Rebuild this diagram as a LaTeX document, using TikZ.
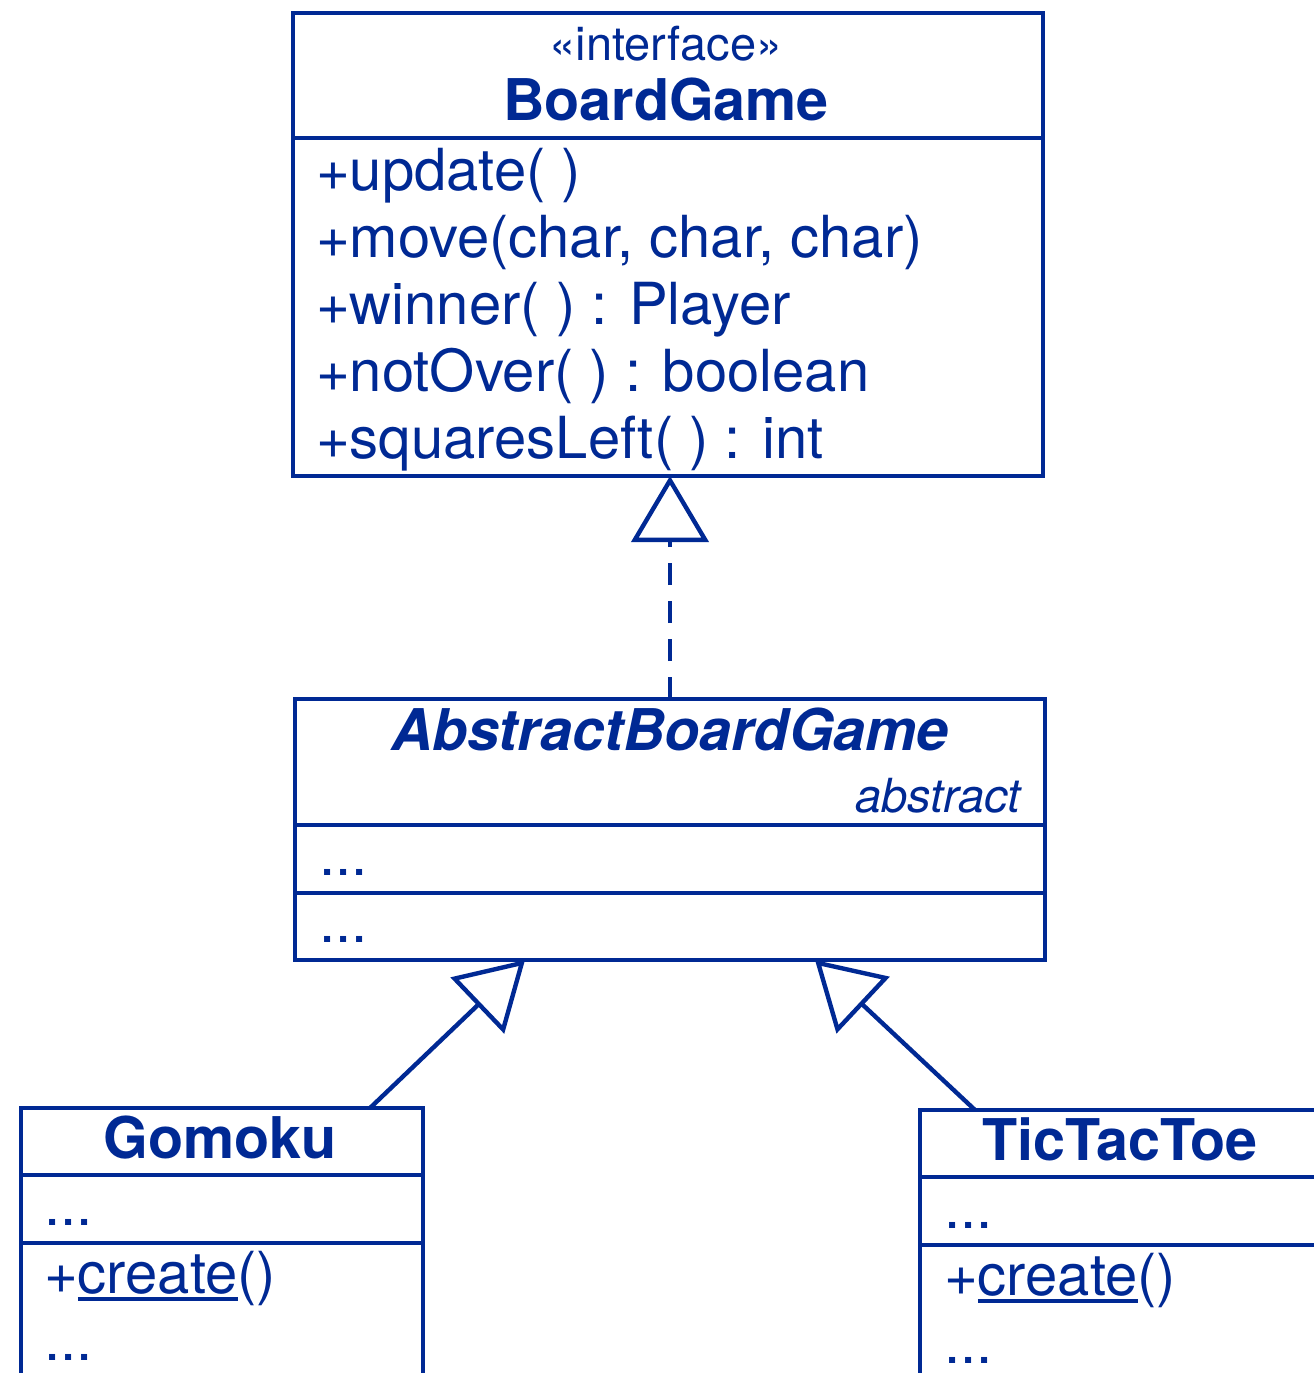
\documentclass[tikz,border=0pt]{standalone}
\usepackage{fontspec}
\setmainfont{TeX Gyre Heros}
\usetikzlibrary{arrows.meta,positioning}
\definecolor{umlblue}{RGB}{0,41,148}
\newcommand{\staticop}[1]{\setbox0\hbox{#1}\rlap{\rule[-8pt]{\wd0}{3.6pt}}\box0}

\begin{document}
\begin{tikzpicture}
  [x=1pt, y=-1pt, line width=4.4pt, color=umlblue,
   every node/.style={inner sep=0pt, outer sep=0pt, text=umlblue},
   classbox/.style={draw=umlblue, rectangle, anchor=north west},
   classname/.style={anchor=base, font=\fontsize{57.5}{68}\selectfont\bfseries},
   member/.style={anchor=base west, font=\fontsize{58}{68}\selectfont},
   smalltag/.style={font=\fontsize{47}{56}\selectfont},
   realize/.style={dash pattern=on 22pt off 16pt, -{Triangle[open, length=66pt, width=77pt]}},
   inherit/.style={-{Triangle[open, length=66pt, width=77pt]}}]

  \useasboundingbox (0,0) rectangle (1314,1373);
  \clip (0,0) rectangle (1314,1373);

  % interface
  \node[classbox, minimum width=750pt, minimum height=463pt] (boardgame) at (293,13) {};
  \draw (boardgame.west |- 0,138) -- (boardgame.east |- 0,138);
  \node[smalltag, anchor=base] (bgtag) at (666,60) {«interface»};
  \node[classname] (bgname) at (666,120) {BoardGame};
  \node[member] (update) at (316,190) {+update( )};
  \node[member] (move) at (316,257) {+move(char, char, char)};
  \node[member] (winner) at (316,324) {+winner( ) : Player};
  \node[member] (notover) at (316,391) {+notOver( ) : boolean};
  \node[member] (squares) at (316,458) {+squaresLeft( ) : int};

  % abstract class
  \node[classbox, minimum width=750pt, minimum height=261pt] (abg) at (295,699) {};
  \draw (abg.west |- 0,825) -- (abg.east |- 0,825);
  \draw (abg.west |- 0,893) -- (abg.east |- 0,893);
  \node[classname, font=\fontsize{57.5}{68}\selectfont\bfseries\itshape] (abgname) at (670,750) {AbstractBoardGame};
  \node[smalltag, anchor=base east, font=\fontsize{47}{56}\selectfont\itshape] (abgtag) at (1021,812) {abstract};
  \node[member] (abgattr) at (319,875) {...};
  \node[member] (abgops) at (319,942) {...};

  % subclasses
  \node[classbox, minimum width=402pt, minimum height=320pt] (gomoku) at (21,1108) {};
  \draw (gomoku.west |- 0,1175) -- (gomoku.east |- 0,1175);
  \draw (gomoku.west |- 0,1243) -- (gomoku.east |- 0,1243);
  \node[classname] (gname) at (220,1158) {Gomoku};
  \node[member] (gattr) at (44,1225) {...};
  \node[member] (gcreate) at (44,1293) {+\staticop{create}()};
  \node[member] (gops) at (44,1360) {...};

  \node[classbox, minimum width=430pt, minimum height=320pt] (ttt) at (920,1110) {};
  \draw (ttt.west |- 0,1177) -- (ttt.east |- 0,1177);
  \draw (ttt.west |- 0,1245) -- (ttt.east |- 0,1245);
  \node[classname] (tname) at (1120,1160) {TicTacToe};
  \node[member] (tattr) at (944,1228) {...};
  \node[member] (tcreate) at (944,1295) {+\staticop{create}()};
  \node[member] (tops) at (944,1363) {...};

  % relations
  \draw[realize] (abg.north) -- (abg.north |- boardgame.south);
  \draw[inherit] ([xshift=148pt]gomoku.north) -- ([xshift=-145pt]abg.south);
  \draw[inherit] ([xshift=55pt]ttt.north west) -- ([xshift=145pt]abg.south);
\end{tikzpicture}
\end{document}
